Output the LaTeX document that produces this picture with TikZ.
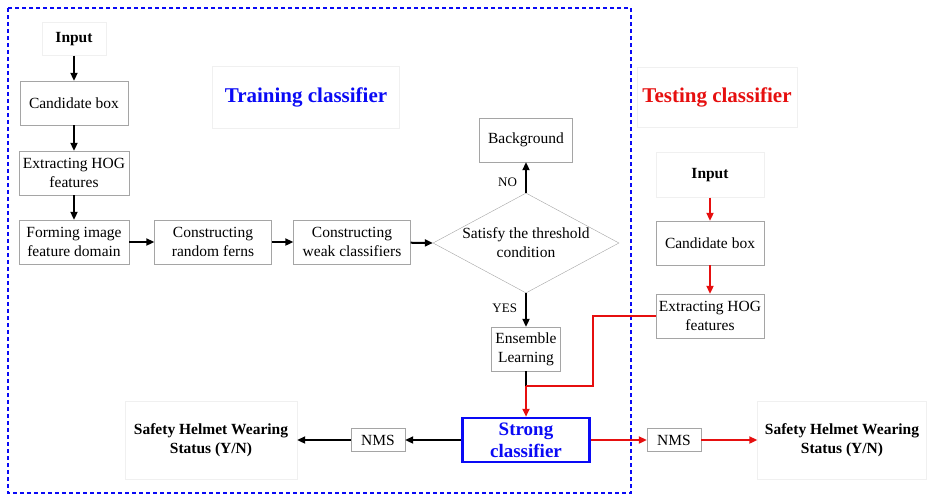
\documentclass[tikz,border=0pt]{standalone}
\usepackage{fontspec}
\setmainfont{Liberation Serif}
\usepackage{xcolor}
\usepackage{tikz}
\usetikzlibrary{arrows.meta, positioning, shapes.geometric}

\definecolor{boxgray}{RGB}{165,165,165}
\definecolor{faintgray}{RGB}{240,240,240}
\definecolor{frameblue}{RGB}{10,10,245}
\definecolor{testred}{RGB}{230,15,15}

\begin{document}
\begin{tikzpicture}[
  x=1pt, y=-1pt,
  box/.style={rectangle, draw=boxgray, fill=white, minimum width=108pt, minimum height=44pt,
    align=center, inner sep=1pt, font=\fontsize{15.5}{19}\selectfont},
  faint/.style={rectangle, draw=faintgray, fill=white, align=center, inner sep=1pt,
    font=\fontsize{15.5}{19}\selectfont\bfseries},
  title/.style={faint, font=\fontsize{21}{24}\selectfont\bfseries},
  dia/.style={diamond, draw=boxgray, fill=white, minimum width=186pt, minimum height=100pt, inner sep=0pt},
  strongbox/.style={rectangle, draw=frameblue, line width=2.5pt, fill=white, minimum width=127pt,
    minimum height=44pt, align=center, inner sep=1pt, text=frameblue, font=\fontsize{19}{22}\selectfont\bfseries},
  lbl/.style={font=\fontsize{13}{15}\selectfont, inner sep=2pt},
  edge/.style={-{Triangle[length=8pt, width=7pt]}, line width=2pt},
  redge/.style={edge, draw=testred},
  frame/.style={draw=frameblue, line width=2.5pt, dash pattern=on 4pt off 3pt}
]
\useasboundingbox (0,0) rectangle (927,496);
\draw[frame] (8,8) rectangle (631,493);

% training side
\node[faint, minimum width=64pt, minimum height=33pt] (inL) at (74,39) {Input};
\node[box] (candL) at (74,103) {Candidate box};
\node[box, minimum width=110pt] (hogL) at (74,173) {Extracting HOG\\features};
\node[box, minimum width=110pt] (formL) at (74,242) {Forming image\\feature domain};
\node[box, minimum width=117pt] (ferns) at (213,242) {Constructing\\random ferns};
\node[box, minimum width=117pt] (weak) at (352,242) {Constructing\\weak classifiers};
\node[dia, label={[align=center, font=\fontsize{15.5}{19}\selectfont]center:Satisfy the threshold\\condition}] (thr) at (526,243) {};
\node[box, minimum width=93pt] (bg) at (526,140) {Background};
\node[box, minimum width=69pt] (ens) at (526,349) {Ensemble\\Learning};
\node[strongbox] (strong) at (526,440) {Strong\\classifier};
\node[box, minimum width=54pt, minimum height=23pt] (nmsL) at (378,440) {NMS};
\node[faint, minimum width=172pt, minimum height=78pt] (outL) at (211,440) {Safety Helmet Wearing\\Status (Y/N)};
\node[title, text=frameblue, minimum width=187pt, minimum height=62pt] (trainT) at (306,97) {Training classifier};

% testing side
\node[title, text=testred, minimum width=160pt, minimum height=60pt] (testT) at (717,97) {Testing classifier};
\node[faint, minimum width=108pt, minimum height=45pt] (inR) at (710,175) {Input};
\node[box] (candR) at (710,243) {Candidate box};
\node[box] (hogR) at (710,316) {Extracting HOG\\features};
\node[box, minimum width=54pt, minimum height=23pt] (nmsR) at (674,440) {NMS};
\node[faint, minimum width=169pt, minimum height=78pt] (outR) at (842,440) {Safety Helmet Wearing\\Status (Y/N)};

\coordinate (join) at (526,386);
\coordinate (turn) at (593,386);

\draw[edge] (inL) -- (candL);
\draw[edge] (candL) -- (hogL);
\draw[edge] (hogL) -- (formL);
\draw[edge] (formL) -- (ferns);
\draw[edge] (ferns) -- (weak);
\draw[edge] (weak) -- (thr.west);
\draw[edge] (thr.north) -- node[lbl, left, xshift=-6pt, yshift=-5pt] {NO} (bg);
\draw[edge] (thr.south) -- node[lbl, left, xshift=-6pt, yshift=2pt] {YES} (ens);
\draw[line width=2pt] (ens) -- (join);
\draw[edge] (strong) -- (nmsL);
\draw[edge] (nmsL) -- (outL);

\draw[redge] (inR) -- (candR);
\draw[redge] (candR) -- (hogR);
\draw[draw=testred, line width=2pt] (hogR.west) -| (turn) -- (join);
\draw[redge] (join) -- (strong);
\draw[redge] (strong) -- (nmsR);
\draw[redge] (nmsR) -- (outR);
\end{tikzpicture}
\end{document}
